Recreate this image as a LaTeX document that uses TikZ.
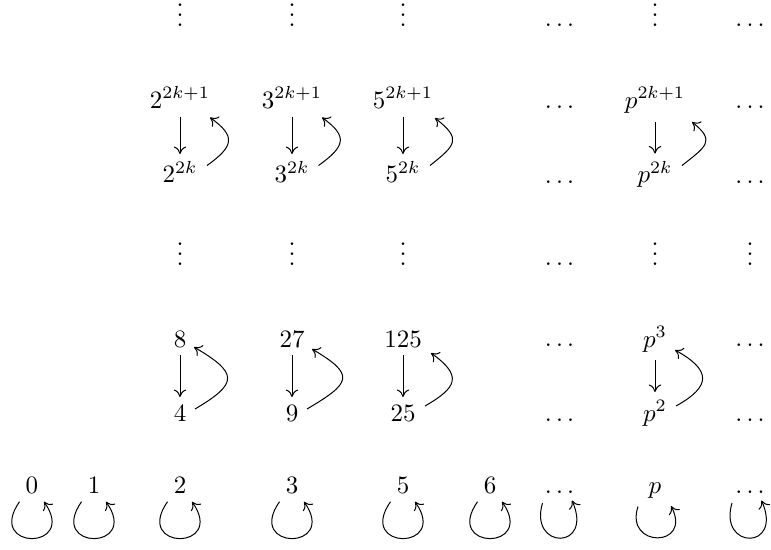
\documentclass[tikz,border=0pt]{standalone}
\usetikzlibrary{arrows.meta}
\newcommand{\myvdots}{\vbox{\baselineskip4pt\lineskiplimit0pt\hbox{.}\hbox{.}\hbox{.}}}
\begin{document}
\begin{tikzpicture}[x=0.4pt,y=0.4pt,
  lab/.style={inner sep=0pt, anchor=base},
  arr/.style={-{Computer Modern Rightarrow[length=3pt,width=5pt]}, line width=0.4pt}]
\useasboundingbox (0,0) rectangle (771,549);
% row 1
\node[lab] (t3) at (180,523) {\myvdots};
\node[lab] (t4) at (292,523) {\myvdots};
\node[lab] (t5) at (403,523) {\myvdots};
\node[lab] (t7) at (559.5,523) {$\ldots$};
\node[lab] (t8) at (655,523) {\myvdots};
\node[lab] (t9) at (750,523) {$\ldots$};
% row 2
\node[lab] (a3) at (180,441) {$2^{2k+1}$};
\node[lab] (a4) at (292,441) {$3^{2k+1}$};
\node[lab] (a5) at (403,441) {$5^{2k+1}$};
\node[lab] (a7) at (559.5,441) {$\ldots$};
\node[lab] (a8) at (655,441) {$p^{2k+1}$};
\node[lab] (a9) at (750,441) {$\ldots$};
% row 3
\node[lab] (b3) at (180,366.5) {$2^{2k}$};
\node[lab] (b4) at (292,366.5) {$3^{2k}$};
\node[lab] (b5) at (403,366.5) {$5^{2k}$};
\node[lab] (b7) at (559.5,366) {$\ldots$};
\node[lab] (b8) at (655,366.5) {$p^{2k}$};
\node[lab] (b9) at (750,366) {$\ldots$};
% row 4
\node[lab] (v3) at (180,284) {\myvdots};
\node[lab] (v4) at (292,284) {\myvdots};
\node[lab] (v5) at (403,284) {\myvdots};
\node[lab] (v7) at (559.5,284) {$\ldots$};
\node[lab] (v8) at (655,284) {\myvdots};
\node[lab] (v9) at (750,284) {\myvdots};
% row 5
\node[lab] (c3) at (180,202) {$8$};
\node[lab] (c4) at (292,202) {$27$};
\node[lab] (c5) at (403,202) {$125$};
\node[lab] (c7) at (559.5,203) {$\ldots$};
\node[lab] (c8) at (655,202) {$p^3$};
\node[lab] (c9) at (750,203) {$\ldots$};
% row 6
\node[lab] (d3) at (180,128) {$4$};
\node[lab] (d4) at (292,128) {$9$};
\node[lab] (d5) at (403,128) {$25$};
\node[lab] (d7) at (559.5,128) {$\ldots$};
\node[lab] (d8) at (655,128) {$p^2$};
\node[lab] (d9) at (750,128) {$\ldots$};
% row 7
\node[lab] (e1) at (32,56) {$0$};
\node[lab] (e2) at (94,56) {$1$};
\node[lab] (e3) at (180,56) {$2$};
\node[lab] (e4) at (292,56) {$3$};
\node[lab] (e5) at (403,56) {$5$};
\node[lab] (e6) at (490,56) {$6$};
\node[lab] (e7) at (559.5,56) {$\ldots$};
\node[lab] (e8) at (655,56) {$p$};
\node[lab] (e9) at (750,56) {$\ldots$};

% vertical arrows rows 2-3
\foreach \u/\l in {a3/b3,a4/b4,a5/b5}
  \draw[arr] ([shift={(0,-8.7)}]\u.base) -- ([shift={(0,28.5)}]\l.base);
\draw[arr] ([shift={(0,-13.7)}]a8.base) -- ([shift={(0,29)}]b8.base);
% vertical arrows rows 5-6
\foreach \u/\l in {c3/d3,c4/d4,c5/d5}
  \draw[arr] ([shift={(0,-8)}]\u.base) -- ([shift={(0,24)}]\l.base);
\draw[arr] ([shift={(0,-13)}]c8.base) -- ([shift={(0,29)}]d8.base);

% curved arrows rows 2-3
\draw[arr] ([shift={(27,17)}]b3.base) .. controls +(26.5,19) and +(26.5,-19) .. ([shift={(30,-9.5)}]a3.base);
\draw[arr] ([shift={(26.5,17)}]b4.base) .. controls +(26.5,19) and +(26.5,-19) .. ([shift={(30,-9.5)}]a4.base);
\draw[arr] ([shift={(27,17)}]b5.base) .. controls +(26.5,21) and +(26.5,-21) .. ([shift={(32,-10)}]a5.base);
\draw[arr] ([shift={(27,17)}]b8.base) .. controls +(24,19) and +(24,-19) .. ([shift={(37,-14)}]a8.base);
% curved arrows rows 5-6
\draw[arr] ([shift={(15,12)}]d3.base) .. controls +(44,26) and +(44,-26) .. ([shift={(14,0)}]c3.base);
\draw[arr] ([shift={(15,12)}]d4.base) .. controls +(44,26) and +(44,-26) .. ([shift={(20,-2)}]c4.base);
\draw[arr] ([shift={(22,15)}]d5.base) .. controls +(32,18.5) and +(32,-23) .. ([shift={(28,-6)}]c5.base);
\draw[arr] ([shift={(21,15)}]d8.base) .. controls +(36,20) and +(36,-20) .. ([shift={(20,-3)}]c8.base);

% loops
\foreach \n in {e1,e2,e3,e4,e5,e6}
  \draw[arr] ([shift={(-12.5,-8.7)}]\n.base) .. controls +(-34.4,-49.1) and +(34.4,-49.1) .. ([shift={(12,-8.7)}]\n.base);
\draw[arr] ([shift={(-17,-10)}]e7.base) .. controls +(-14,-47) and +(22,-50) .. ([shift={(12.5,-7.5)}]e7.base);
\draw[arr] ([shift={(-18,-10)}]e9.base) .. controls +(-14,-47) and +(22,-50) .. ([shift={(11.5,-7.5)}]e9.base);
\draw[arr] ([shift={(-17,-13.5)}]e8.base) .. controls +(-14,-42) and +(22,-42) .. ([shift={(16,-13)}]e8.base);
\end{tikzpicture}
\end{document}
